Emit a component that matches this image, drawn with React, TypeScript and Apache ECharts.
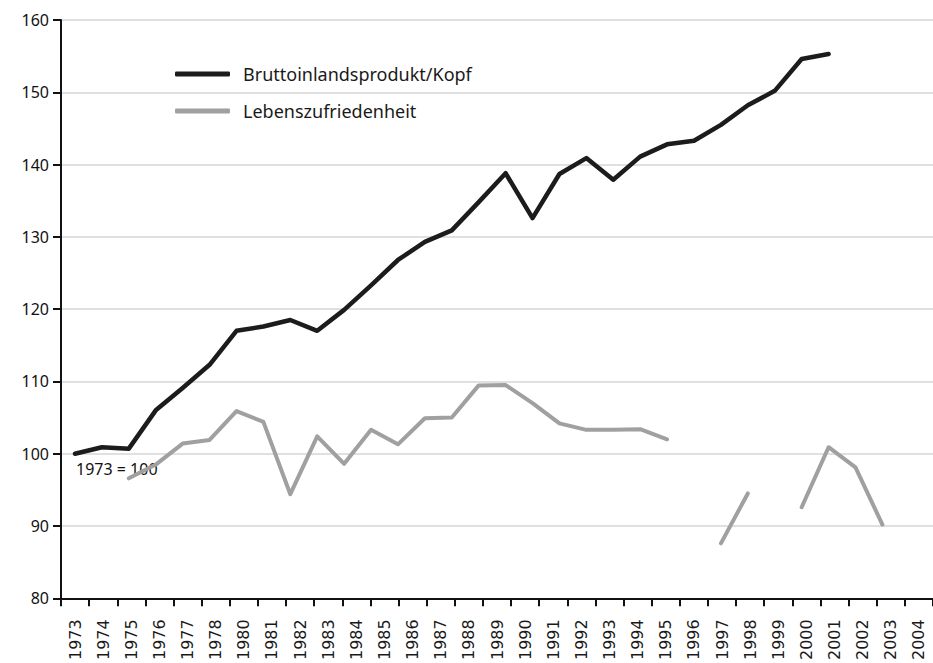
import React, { useEffect, useRef } from "react";
import * as echarts from "echarts";

const AXIS_LABELS = [
  "1973", "1974", "1975", "1976", "1977", "1978", "1980", "1981", "1982", "1983",
  "1984", "1985", "1986", "1987", "1988", "1989", "1990", "1991", "1992", "1993",
  "1994", "1995", "1996", "1997", "1998", "1999", "2000", "2001", "2002", "2003", "2004",
];

const GDP_YEARS = [
  1973, 1974, 1975, 1976, 1977, 1978, 1979, 1980, 1981, 1982, 1983, 1984, 1985, 1986, 1987,
  1988, 1989, 1990, 1991, 1992, 1993, 1994, 1995, 1996, 1997, 1998, 1999, 2000, 2001,
];
const GDP_VALUES = [
  100.0, 100.9, 100.7, 106.0, 109.1, 112.3, 117.0, 117.6, 118.5, 117.0, 119.9, 123.3, 126.8, 129.3, 130.9,
  134.8, 138.8, 132.6, 138.7, 140.9, 137.9, 141.1, 142.8, 143.3, 145.5, 148.2, 150.2, 154.6, 155.3,
];

const LS_YEARS = [
  1975, 1976, 1977, 1978, 1979, 1980, 1981, 1982, 1983, 1984, 1985, 1986, 1987, 1988, 1989,
  1990, 1991, 1992, 1993, 1994, 1995, 1996, 1997, 1998, 1999, 2000, 2001, 2002, 2003,
];
const LS_VALUES: (number | null)[] = [
  96.6, 98.5, 101.4, 101.9, 105.9, 104.4, 94.4, 102.4, 98.6, 103.3, 101.3, 104.9, 105.0, 109.45, 109.5,
  107.0, 104.2, 103.3, 103.3, 103.4, 102.0, null, 87.6, 94.5, null, 92.6, 100.9, 98.1, 90.2,
];

const SERIES_NAMES = ["Bruttoinlandsprodukt/Kopf", "Lebenszufriedenheit"];
const NOTE = "1973 = 100";

const Y_MIN = 80;
const Y_MAX = 160;
const Y_STEP = 10;
const YEAR_MIN = 1972.48;
const YEAR_MAX = 2004.88;

export default function App() {
  const ref = useRef<HTMLDivElement>(null);

  useEffect(() => {
    document.body.style.margin = "0";
    if (!ref.current) return;
    const chart = echarts.init(ref.current, null, { renderer: "svg" });

    const gdpData = GDP_YEARS.map((y, i) => [y, GDP_VALUES[i]]);
    const lsData = LS_YEARS.map((y, i) => [y, LS_VALUES[i] === null ? "-" : LS_VALUES[i]]);

    chart.setOption({
      animation: false,
      backgroundColor: "#ffffff",
      grid: { left: 61, right: -5, top: 20, bottom: 61, containLabel: false },
      legend: {
        orient: "vertical",
        left: 175,
        top: 64,
        padding: 0,
        icon: "roundRect",
        itemWidth: 55,
        itemHeight: 5,
        itemGap: 17,
        textStyle: {
          fontFamily: "Noto Sans",
          fontSize: 18,
          lineHeight: 20,
          color: "#1a1a1a",
          padding: [0, 0, 0, 8],
        },
        data: SERIES_NAMES,
      },
      xAxis: [
        {
          type: "category",
          data: AXIS_LABELS,
          boundaryGap: true,
          axisLine: { show: true, lineStyle: { color: "#111", width: 2 } },
          axisTick: { show: true, length: 8, interval: 0, lineStyle: { color: "#111", width: 2 } },
          axisLabel: {
            interval: 0,
            rotate: 90,
            margin: 21,
            fontFamily: "DejaVu Sans",
            fontSize: 16,
            color: "#1a1a1a",
          },
          splitLine: { show: false },
        },
        {
          type: "value",
          min: YEAR_MIN,
          max: YEAR_MAX,
          show: false,
          splitLine: { show: false },
        },
      ],
      yAxis: {
        type: "value",
        min: Y_MIN,
        max: Y_MAX,
        interval: Y_STEP,
        axisLine: { show: true, lineStyle: { color: "#111", width: 2 } },
        axisTick: { show: true, length: 8, lineStyle: { color: "#111", width: 2 } },
        axisLabel: {
          margin: 12,
          fontFamily: "Noto Sans",
          fontSize: 16,
          color: "#111",
        },
        splitLine: { show: true, lineStyle: { color: "#e0e0e0", width: 2 } },
      },
      series: [
        {
          name: SERIES_NAMES[0],
          type: "line",
          xAxisIndex: 1,
          data: gdpData,
          symbol: "none",
          z: 3,
          color: "#1c1c1c",
          lineStyle: { color: "#1c1c1c", width: 4.5, cap: "round", join: "round" },
        },
        {
          name: SERIES_NAMES[1],
          type: "line",
          xAxisIndex: 1,
          data: lsData,
          symbol: "none",
          connectNulls: false,
          z: 2,
          color: "#a0a0a0",
          lineStyle: { color: "#a0a0a0", width: 4, cap: "round", join: "round" },
        },
      ],
      graphic: [
        {
          type: "text",
          left: 76,
          top: 461,
          style: {
            text: NOTE,
            fontFamily: "Noto Sans",
            fontSize: 16,
            fill: "#111",
          },
        },
      ],
    });

    return () => chart.dispose();
  }, []);

  return <div ref={ref} style={{ width: 933, height: 663 }} />;
}
